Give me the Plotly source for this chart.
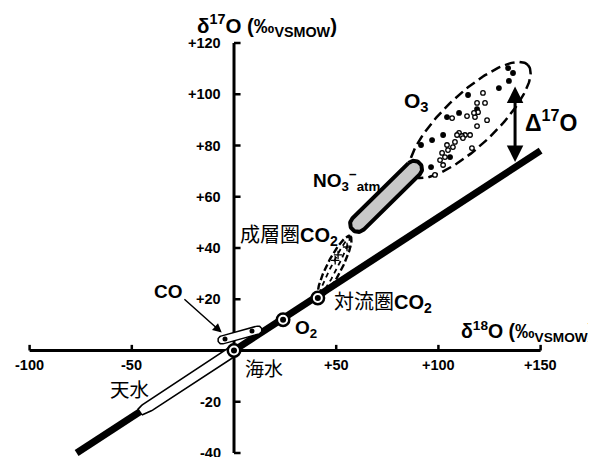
import numpy as np
import plotly.graph_objects as go

# ---------------- data ----------------
x_tick_vals = [-100, -50, 50, 100, 150]
x_tick_text = ["-100", "-50", "+50", "+100", "+150"]
y_tick_vals = [-40, -20, 20, 40, 60, 80, 100, 120]
y_tick_text = ["-40", "-20", "+20", "+40", "+60", "+80", "+100", "+120"]

# mass-dependent fractionation line (δ17O ≈ 0.52 δ18O)
mdf_x = [-77, 150]
mdf_y = [-40, 78]

# 天水 (meteoric water) range
meteoric_x = [-46, 1]
meteoric_y = [-24, 0.5]

# point reservoirs: 海水, O2, 対流圏CO2
point_x = [0, 24, 41]
point_y = [0, 12, 20.5]

# CO range
co_x = [-5.9, 11.7]
co_y = [4.1, 8.0]
co_dot_x = [-4.4, 8.8]
co_dot_y = [4.5, 7.6]

# 成層圏CO2 range and samples
strat_x = [41.6, 56.8]
strat_y = [20.9, 44.7]
strat_pts_x = [55.3, 50.9, 49.5]
strat_pts_y = [40.4, 37.3, 35.2]

# NO3- atm range
no3_x = [60.7, 88.1]
no3_y = [49.4, 70.9]

# O3 range and samples
o3_x = [87.1, 143.8]
o3_y = [68.5, 111.4]
o3_dots_x = [134.1, 136.5, 134.5, 129.6, 114.5, 121.8, 118.9, 122.8, 118.9, 110.1,
             104.2, 106.7, 114.0, 117.9, 123.8, 102.3, 110.1, 113.0, 115.5, 118.9,
             96.9, 111.5, 104.2, 107.1, 104.7, 116.4, 101.8, 103.2, 100.8, 105.7,
             91.5, 102.3, 96.4, 98.3, 112.0, 109.1, 108.1, 119.4, 117.4]
o3_dots_y = [110.2, 108.3, 105.2, 102.4, 99.7, 100.5, 96.6, 96.6, 94.2, 92.7,
             91.1, 90.7, 91.5, 91.1, 89.9, 84.1, 84.9, 84.1, 84.1, 87.6,
             82.1, 83.7, 80.2, 79.4, 78.2, 79.0, 77.1, 75.5, 74.3, 75.5,
             80.2, 72.4, 71.6, 68.5, 82.9, 84.1, 81.4, 93.0, 92.7]
o3_dots_open = [0, 0, 0, 0, 0, 1, 1, 1, 0, 0,
                0, 1, 1, 1, 1, 0, 1, 1, 1, 1,
                0, 1, 1, 1, 1, 1, 1, 1, 1, 0,
                0, 1, 0, 1, 1, 1, 1, 1, 1]

# Δ17O arrow
d17_x = 137.5
d17_y = [73.6, 103.6]

# ---------------- geometry helpers ----------------
# the page body adds an 8 px margin, so the figure covers 588x449 of the window
W, H = 588, 449
X0, X1 = -110.57, 177.1
Y0, Y1 = -41.56, 133.66
SX = W / (X1 - X0)
SY = H / (Y1 - Y0)


def to_px(x, y):
    return (np.asarray(x) - X0) * SX, (Y1 - np.asarray(y)) * SY


def to_data(u, v):
    return X0 + np.asarray(u) / SX, Y1 - np.asarray(v) / SY


def capsule(xs, ys, r, n=30):
    (ux, vx), (uy, vy) = to_px(xs, ys)
    ang = np.arctan2(vy - uy, vx - ux)
    t1 = np.linspace(ang - np.pi / 2, ang + np.pi / 2, n)
    t2 = np.linspace(ang + np.pi / 2, ang + 3 * np.pi / 2, n)
    px = np.concatenate([vx + r * np.cos(t1), ux + r * np.cos(t2), [vx + r * np.cos(t1[0])]])
    py = np.concatenate([vy + r * np.sin(t1), uy + r * np.sin(t2), [vy + r * np.sin(t1[0])]])
    return to_data(px, py)


def ellipse(xs, ys, b, n=160):
    (ux, vx), (uy, vy) = to_px(xs, ys)
    cx, cy = (ux + vx) / 2, (uy + vy) / 2
    a = np.hypot(vx - ux, vy - uy) / 2
    ang = np.arctan2(vy - uy, vx - ux)
    t = np.linspace(0, 2 * np.pi, n)
    px = cx + a * np.cos(t) * np.cos(ang) - b * np.sin(t) * np.sin(ang)
    py = cy + a * np.cos(t) * np.sin(ang) + b * np.sin(t) * np.cos(ang)
    return to_data(px, py)


def band(xs, ys, h0, h, taper, n=80):
    (ux, vx), (uy, vy) = to_px(xs, ys)
    L = np.hypot(vx - ux, vy - uy)
    dx, dy = (vx - ux) / L, (vy - uy) / L
    nx, ny = -dy, dx
    t = np.linspace(0, L, n)
    w = h0 + (h - h0) * np.sin(np.clip(t / taper, 0, 1) * np.pi / 2)
    bx, by = ux + dx * t, uy + dy * t
    px = np.concatenate([bx + nx * w, (bx - nx * w)[::-1], [bx[0] + nx * w[0]]])
    py = np.concatenate([by + ny * w, (by - ny * w)[::-1], [by[0] + ny * w[0]]])
    return to_data(px, py)


FONT = "Liberation Sans, Arial, Noto Sans CJK JP, sans-serif"
fig = go.Figure()

# ---------------- axes ----------------
fig.add_trace(go.Scatter(x=[x_tick_vals[0], x_tick_vals[-1]], y=[0, 0], mode="lines",
                         line=dict(color="black", width=3), hoverinfo="skip"))
fig.add_trace(go.Scatter(x=[0, 0], y=[y_tick_vals[0], y_tick_vals[-1]], mode="lines",
                         line=dict(color="black", width=3), hoverinfo="skip"))
tx, ty = [], []
for v in x_tick_vals:
    tx += [v, v, None]
    ty += [0, 2.2, None]
for v in y_tick_vals:
    tx += [0, 3.2, None]
    ty += [v, v, None]
fig.add_trace(go.Scatter(x=tx, y=ty, mode="lines",
                         line=dict(color="black", width=2.5), hoverinfo="skip"))

for v, s in zip(x_tick_vals, x_tick_text):
    fig.add_annotation(x=v, y=-5.5, text="<b>%s</b>" % s, showarrow=False,
                       xanchor="center", yanchor="middle",
                       font=dict(family=FONT, size=14.5, color="black"))
for v, s in zip(y_tick_vals, y_tick_text):
    fig.add_annotation(x=-5.3, y=v, text="<b>%s</b>" % s, showarrow=False,
                       xanchor="right", yanchor="middle",
                       font=dict(family=FONT, size=14.5, color="black"))

# ---------------- main line ----------------
fig.add_trace(go.Scatter(x=mdf_x, y=mdf_y, mode="lines",
                         line=dict(color="black", width=7), hoverinfo="skip"))

# 天水 band
bx, by = band(meteoric_x, meteoric_y, 3.5, 5.3, 12)
fig.add_trace(go.Scatter(x=bx, y=by, mode="lines", fill="toself", fillcolor="white",
                         line=dict(color="black", width=1.6), hoverinfo="skip"))

# CO capsule
cx_, cy_ = capsule(co_x, co_y, 4)
fig.add_trace(go.Scatter(x=cx_, y=cy_, mode="lines", fill="toself", fillcolor="white",
                         line=dict(color="black", width=1.5), hoverinfo="skip"))
fig.add_trace(go.Scatter(x=co_dot_x, y=co_dot_y, mode="markers",
                         marker=dict(color="black", size=5), hoverinfo="skip"))

# 成層圏CO2 ellipses
ex, ey = ellipse(strat_x, strat_y, 7.5)
fig.add_trace(go.Scatter(x=ex, y=ey, mode="lines",
                         line=dict(color="black", width=2.4, dash="7px,3px"), hoverinfo="skip"))
ex, ey = ellipse(strat_x, strat_y, 3)
fig.add_trace(go.Scatter(x=ex, y=ey, mode="lines",
                         line=dict(color="black", width=1.8, dash="5px,4px"), hoverinfo="skip"))
fig.add_trace(go.Scatter(x=strat_pts_x, y=strat_pts_y, mode="markers",
                         marker=dict(symbol="cross-thin", size=6, line=dict(color="black", width=1.3)),
                         hoverinfo="skip"))

# O3 ellipse and samples
ex, ey = ellipse(o3_x, o3_y, 26)
fig.add_trace(go.Scatter(x=ex, y=ey, mode="lines",
                         line=dict(color="black", width=2.5, dash="10px,5px"), hoverinfo="skip"))
fills = ["white" if o else "black" for o in o3_dots_open]
fig.add_trace(go.Scatter(x=o3_dots_x, y=o3_dots_y, mode="markers",
                         marker=dict(color=fills, size=4.5, line=dict(color="black", width=1.3)),
                         hoverinfo="skip"))

# NO3- atm capsule
nx_, ny_ = capsule(no3_x, no3_y, 8)
fig.add_trace(go.Scatter(x=nx_, y=ny_, mode="lines", fill="toself", fillcolor="#c8c8c8",
                         line=dict(color="black", width=4), hoverinfo="skip"))

# point reservoirs
fig.add_trace(go.Scatter(x=point_x, y=point_y, mode="markers",
                         marker=dict(color="white", size=12.5, line=dict(color="black", width=2.5)),
                         hoverinfo="skip"))
fig.add_trace(go.Scatter(x=point_x, y=point_y, mode="markers",
                         marker=dict(color="black", size=6), hoverinfo="skip"))

# ---------------- arrows ----------------
fig.add_annotation(x=d17_x, y=d17_y[0], ax=d17_x, ay=d17_y[1], xref="x", yref="y",
                   axref="x", ayref="y", text="", showarrow=True, arrowhead=2,
                   arrowside="end+start", arrowsize=1.1, arrowwidth=3, arrowcolor="black",
                   standoff=0, startstandoff=0)
fig.add_annotation(x=-6, y=7, ax=-25, ay=20.5, xref="x", yref="y", axref="x", ayref="y",
                   text="", showarrow=True, arrowhead=2, arrowsize=1.2, arrowwidth=1.5,
                   arrowcolor="black", standoff=0)

# ---------------- labels ----------------
labels = [
    (-19.1, 127, "<b>δ<sup>17</sup>O (‰<sub>VSMOW</sub>)</b>", "left", 20.5),
    (110.0, 7.6, "<b>δ<sup>18</sup>O (‰<sub>VSMOW</sub>)</b>", "left", 19.5),
    (141.4, 89.5, "<b>Δ<sup>17</sup>O</b>", "left", 23),
    (82.2, 97.0, "<b>O<sub>3</sub></b>", "left", 21),
    (72.4, 66.5, "<b>NO<sub>3</sub><sup>−</sup><sub>atm</sub></b>", "right", 19),
    (2.0, 44.5, "成層圏<b>CO<sub>2</sub></b>", "left", 20),
    (47.9, 18.2, "対流圏<b>CO<sub>2</sub></b>", "left", 20),
    (28.9, 8.2, "<b>O<sub>2</sub></b>", "left", 19),
    (4.4, -7.6, "海水", "left", 19),
    (-61.6, -15.4, "天水", "left", 19.5),
    (-40.1, 23.2, "<b>CO</b>", "left", 19),
]
for x, y, t, xa, fs in labels:
    fig.add_annotation(x=x, y=y, text=t, showarrow=False, xanchor=xa, yanchor="middle",
                       font=dict(family=FONT, size=fs, color="black"))

fig.update_layout(
    width=W, height=H, margin=dict(l=0, r=0, t=0, b=0),
    paper_bgcolor="white", plot_bgcolor="white", showlegend=False,
    xaxis=dict(range=[X0, X1], visible=False),
    yaxis=dict(range=[Y0, Y1], visible=False),
)
fig.write_html("out.html")
